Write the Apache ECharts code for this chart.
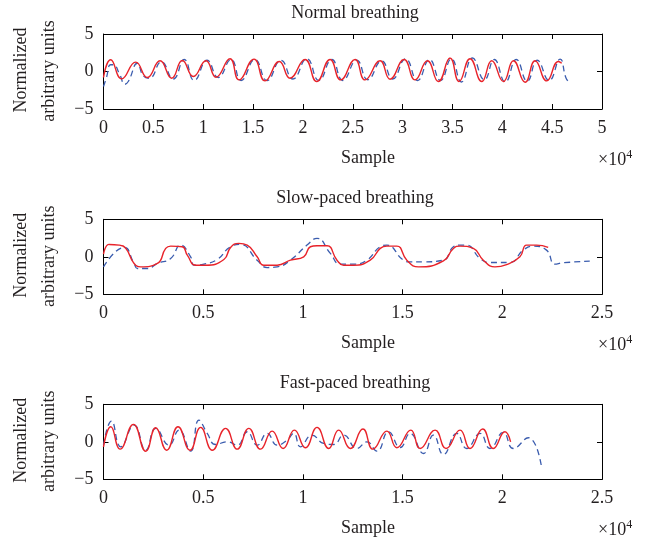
<!DOCTYPE html>
<html><head><meta charset="utf-8">
<script src="https://cdn.jsdelivr.net/npm/echarts@6/dist/echarts.min.js"></script>
<style>html,body{margin:0;padding:0;background:#fff}#c{width:646px;height:541px}</style>
</head><body><div id="c"></div>
<script>
const titles = ['Normal breathing', 'Slow-paced breathing', 'Fast-paced breathing'];
const yTicks = [-5, 0, 5];
const xMaxes = [50000, 25000, 25000];
const xLabel = 'Sample';
const yLabelLines = ['Normalized', 'arbitrary units'];

const normalRed = [[0,-0.8],[719,1.56],[1823,-0.98],[3227,1.25],[4397,-0.8],[5668,1.43],[6838,-0.89],[7909,1.47],[9012,-0.67],[10283,1.43],[11286,-0.76],[12691,1.7],[13593,-1.12],[15098,1.65],[16202,-1.25],[17640,1.34],[18710,-0.89],[20215,1.6],[21385,-1.34],[22723,1.6],[23793,-1.12],[25231,1.6],[26234,-1.12],[27739,1.43],[28742,-1.03],[30147,1.6],[31250,-1.12],[32488,1.43],[33591,-1.34],[34761,1.79],[35664,-1.34],[36768,1.7],[37938,-1.34],[38941,1.43],[40111,-1.34],[41115,1.43],[42285,-1.43],[43289,1.43],[44459,-1.25],[45630,1.34],[45960,1.1]];
const normalBlue = [[0,-2.0],[300,-0.8],[700,0.9],[1000,0.9],[1600,-0.3],[2150,-1.7],[2500,-1.3],[3400,1.1],[4000,-0.6],[4600,-0.9],[5800,1.3],[7000,-1.0],[8100,1.6],[9100,-1.2],[10400,1.5],[11500,-0.8],[12800,1.6],[13800,-1.2],[15200,1.6],[16400,-1.2],[17800,1.5],[19000,-1.0],[20400,1.7],[21600,-1.2],[22900,1.6],[24000,-1.2],[25400,1.5],[26500,-1.1],[27900,1.4],[29000,-1.0],[30300,1.7],[31500,-1.2],[32700,1.6],[33800,-1.2],[34900,1.7],[35900,-1.4],[37000,1.8],[38200,-1.1],[39200,1.6],[40300,-1.4],[41400,1.6],[42500,-1.3],[43500,1.5],[44700,-1.2],[45800,1.65],[46400,-0.9],[46800,-1.5]];

const slowRed = [[0,0.36],[284,1.65],[784,1.56],[1118,1.12],[1535,-0.89],[1868,-1.34],[2702,-0.89],[3119,1.12],[3369,1.43],[3953,1.34],[4203,0.22],[4620,-1.12],[5121,-1.12],[6038,-0.36],[6372,1.25],[6789,1.79],[7206,1.56],[7706,0],[8040,-1.12],[8707,-1.12],[9374,-0.45],[10041,0],[10375,1.34],[10709,1.47],[11209,1.47],[11710,-0.45],[12043,-1.12],[12543,-1.12],[13377,-0.45],[13878,1.12],[14211,1.43],[14712,1.43],[15212,-0.45],[15796,-1.34],[17047,-0.54],[17547,1.12],[17881,1.43],[18548,1.12],[19049,-0.45],[19632,-1.34],[20216,-1.03],[20883,0],[21217,1.56],[21717,1.56],[22301,1.25]];
const slowBlue = [[0,-1.34],[1034,1.25],[1535,-0.89],[1701,-1.56],[2202,-1.56],[2702,-0.89],[3369,-0.22],[3870,1.56],[4370,0],[4537,-1.12],[5037,-0.98],[5705,-0.36],[6372,1.34],[6872,1.65],[7706,-0.45],[8207,-1.43],[8707,-1.34],[9374,-0.45],[10208,1.56],[10709,2.46],[11376,0.45],[11876,-0.98],[12543,-0.98],[13211,-0.45],[13878,1.34],[14211,1.56],[15045,-0.45],[15379,-0.67],[16046,-0.67],[17047,-0.45],[17547,1.34],[17881,1.56],[18214,1.56],[18882,-0.22],[19382,-0.76],[20383,-0.76],[21050,0.89],[21551,1.43],[22218,0.89],[22635,-0.98],[23052,-0.8],[24386,-0.58]];

const fastRed = [[0,-0.67],[367,2.0],[834,-0.98],[1501,2.32],[2118,-1.25],[2619,1.88],[3169,-1.12],[3736,2.0],[4337,-1.12],[4871,1.92],[5454,-1.12],[6122,1.79],[6705,-0.98],[7289,1.79],[7873,-0.98],[8457,1.43],[9007,-0.89],[9574,1.56],[10125,-0.8],[10709,1.92],[11292,-0.89],[11793,1.56],[12376,-0.89],[13010,1.7],[13511,-0.98],[14211,1.43],[14712,-0.8],[15412,1.56],[15880,-0.89],[16630,1.56],[17180,-0.89],[17881,1.56],[18381,-0.89],[19015,1.7],[19549,-0.89],[20133,1.34],[20416,0]];
const fastBlue = [[0,-0.45],[400,2.77],[867,-0.67],[1535,2.23],[2118,-1.12],[2619,1.79],[3286,-0.45],[3786,1.56],[4370,-1.25],[4787,2.9],[5204,1.12],[5621,-0.36],[6205,0],[6705,-0.45],[7206,1.34],[7706,-0.45],[8207,1.12],[8707,-0.45],[9207,0.22],[9541,1.12],[9874,-0.67],[10458,0.89],[11042,-0.22],[11542,-0.36],[12043,0.89],[12710,-0.89],[13211,0],[13711,-1.25],[14295,1.34],[14879,-0.76],[15379,1.12],[16046,-1.56],[16546,0.89],[17047,-1.7],[17714,1.12],[18214,-0.89],[18882,1.12],[19382,-0.89],[20049,1.25],[20550,-0.89],[21300,0.54],[21967,-3.35]];

const reds = [normalRed, slowRed, fastRed];
const blues = [normalBlue, slowBlue, fastBlue];

const FONT = 'Liberation Serif';
const TXT = '#231f20';
const gridTops = [34, 219.3, 404.3];
const grids = [], xAxes = [], yAxes = [], series = [], graphics = [];
const fmtY = v => (v < 0 ? '\u2212' + Math.abs(v) : String(v));
const textEl = (text, x, y, align, extra) => Object.assign({type: 'text', x: x, y: y,
  style: {text: text, font: '18px "' + FONT + '"', fill: TXT, textAlign: align, textVerticalAlign: 'middle'}}, extra || {});
for (let i = 0; i < 3; i++) {
  grids.push({left: 103.5, top: gridTops[i], width: 498.5, height: 75, containLabel: false, outerBoundsMode: 'none'});
  const common = {type: 'value', gridIndex: i, min: 0, max: xMaxes[i], interval: 5000,
    axisLine: {show: true, onZero: false, lineStyle: {color: '#000', width: 1}},
    axisTick: {show: true, inside: true, length: 5, lineStyle: {color: '#000'}},
    splitLine: {show: false}};
  xAxes.push(Object.assign({}, common, {position: 'bottom',
    axisLabel: {show: true, margin: 10, fontFamily: FONT, fontSize: 18, color: TXT, formatter: v => String(v / 10000)}}));
  xAxes.push(Object.assign({}, common, {position: 'top', axisLabel: {show: false}}));
  const ycommon = {type: 'value', gridIndex: i, min: yTicks[0], max: yTicks[yTicks.length - 1], interval: 5,
    axisLine: {show: true, onZero: false, lineStyle: {color: '#000', width: 1}},
    axisTick: {show: true, inside: true, length: 5, lineStyle: {color: '#000'}},
    splitLine: {show: false}};
  yAxes.push(Object.assign({}, ycommon, {position: 'left',
    axisLabel: {show: true, margin: 10, fontFamily: FONT, fontSize: 18, color: TXT, formatter: fmtY}}));
  yAxes.push(Object.assign({}, ycommon, {position: 'right', axisLabel: {show: false}}));
  series.push({type: 'line', xAxisIndex: 2 * i, yAxisIndex: 2 * i, data: blues[i], smooth: 0.5,
    showSymbol: false, symbol: 'none', lineStyle: {color: '#3a5cae', width: 1.3, type: [6, 4]}, z: 2});
  series.push({type: 'line', xAxisIndex: 2 * i, yAxisIndex: 2 * i, data: reds[i], smooth: 0.5,
    showSymbol: false, symbol: 'none', lineStyle: {color: '#e8232a', width: 1.4}, z: 3});
  graphics.push(textEl(titles[i], 355, gridTops[i] - 21, 'center'));
  graphics.push(textEl(xLabel, 368, gridTops[i] + 124, 'center'));
  graphics.push(textEl(yLabelLines[0], 21, gridTops[i] + 36, 'center', {rotation: Math.PI / 2}));
  graphics.push(textEl(yLabelLines[1], 49, gridTops[i] + 37, 'center', {rotation: Math.PI / 2}));
  graphics.push({type: 'text', x: 598, y: gridTops[i] + 126, style: {text: '\u00d710{s|4}', font: '18px "' + FONT + '"', fill: TXT, textAlign: 'left', textVerticalAlign: 'middle',
    rich: {s: {fontSize: 12, fontFamily: FONT, verticalAlign: 'top', padding: [0, 0, 10, 0]}}}});
}
const chart = echarts.init(document.getElementById('c'), null, {renderer: 'canvas'});
chart.setOption({animation: false, grid: grids, xAxis: xAxes, yAxis: yAxes, series: series, graphic: graphics});
</script></body></html>
